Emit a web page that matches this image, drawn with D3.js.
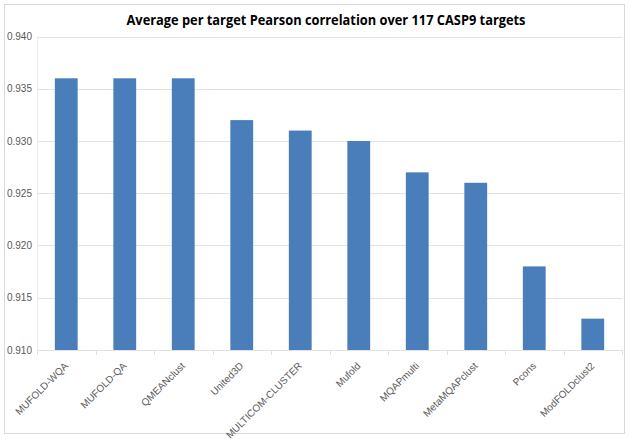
<!DOCTYPE html>
<html><head><meta charset="utf-8">
<script src="https://cdn.jsdelivr.net/npm/d3@7"></script>
<style>body{margin:0;background:#fff}svg{display:block}</style>
</head><body>
<svg id="chart" width="630" height="439"></svg>
<script>
const categories = ["MUFOLD-WQA","MUFOLD-QA","QMEANclust","United3D","MULTICOM-CLUSTER","Mufold","MQAPmulti","MetaMQAPclust","Pcons","ModFOLDclust2"];
const values = [0.936,0.936,0.936,0.932,0.931,0.930,0.927,0.926,0.918,0.913];
const yTicks = [0.910,0.915,0.920,0.925,0.930,0.935,0.940];
const title = "Average per target Pearson correlation over 117 CASP9 targets";

(function(){
const svg = d3.select("#chart");
const pLeft = 37, pRight = 622, pTop = 36.5, pBottom = 350;

svg.append("rect").attr("x",4.5).attr("y",4.5).attr("width",620).attr("height",429)
  .attr("fill","#fff").attr("stroke","#d9d9d9").attr("stroke-width",1);

const x = d3.scaleBand().domain(categories).range([pLeft,pRight]).padding(0);
const y = d3.scaleLinear().domain([0.910,0.940]).range([pBottom,pTop]);

svg.append("g").selectAll("line").data(yTicks).join("line")
  .attr("x1",pLeft).attr("x2",pRight)
  .attr("y1",d=>Math.round(y(d))+0.5).attr("y2",d=>Math.round(y(d))+0.5)
  .attr("stroke","#e3e3e3").attr("stroke-width",1);

// left plot edge
svg.append("line").attr("x1",pLeft+0.5).attr("x2",pLeft+0.5).attr("y1",y(0.940)).attr("y2",pBottom)
  .attr("stroke","#ececec");

// category ticks at band boundaries
const bounds = categories.map(c=>x(c)).concat([pRight]);
svg.append("g").selectAll("line").data(bounds).join("line")
  .attr("x1",d=>Math.round(d)+0.5).attr("x2",d=>Math.round(d)+0.5)
  .attr("y1",pBottom).attr("y2",pBottom+5)
  .attr("stroke","#e0e0e0");

const yAxis = d3.axisLeft(y).tickValues(yTicks).tickFormat(d3.format(".3f")).tickSize(0).tickPadding(5);
const gy = svg.append("g").attr("transform",`translate(${pLeft},0)`).call(yAxis);
gy.select(".domain").remove();
gy.selectAll("text").attr("fill","#595959").style("font-family","'Liberation Sans',Arial,sans-serif").style("font-size","10px");

const bw = x.bandwidth()*0.39;
svg.append("g").selectAll("rect").data(values).join("rect")
  .attr("x",(d,i)=>x(categories[i])+x.bandwidth()/2-bw/2)
  .attr("width",bw)
  .attr("y",d=>y(d))
  .attr("height",d=>y(0.910)-y(d))
  .attr("fill","#4a7ebb");

const xAxis = d3.axisBottom(x).tickSize(0).tickPadding(0);
const gx = svg.append("g").attr("transform",`translate(0,${pBottom})`).call(xAxis);
gx.select(".domain").remove();
gx.selectAll("text")
  .attr("text-anchor","end")
  .attr("fill","#595959")
  .style("font-family","'Liberation Sans',Arial,sans-serif").style("font-size","10px")
  .attr("dy","0.35em").attr("y",0)
  .attr("transform","translate(0,14) rotate(-45)");

svg.append("text").attr("x",326).attr("y",25).attr("text-anchor","middle")
  .attr("textLength",399).attr("lengthAdjust","spacingAndGlyphs")
  .style("font-family","'Open Sans',Arial,sans-serif").style("font-weight","bold").style("font-size","14px")
  .attr("fill","#000").text(title);
})();
</script>
</body></html>
